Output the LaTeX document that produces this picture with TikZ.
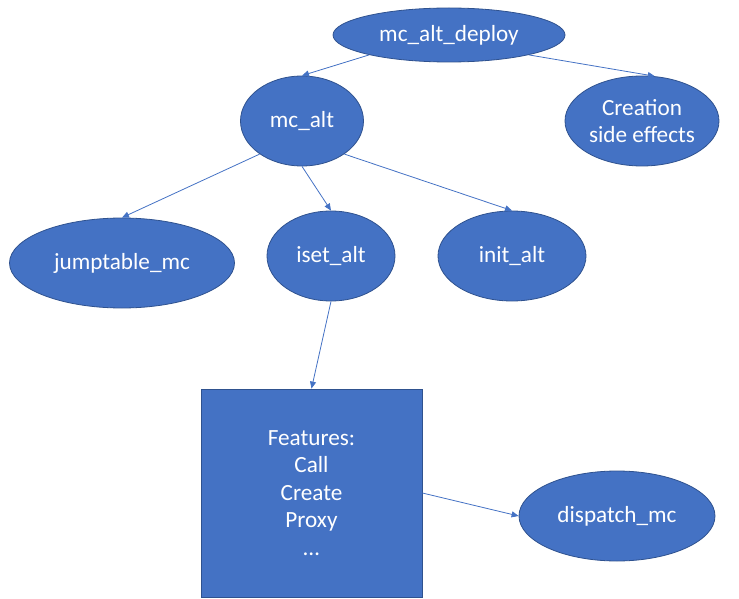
\documentclass[tikz,border=0pt]{standalone}
\usepackage{fontspec}
\setmainfont{Carlito}
\usetikzlibrary{shapes.geometric,arrows.meta}
\definecolor{nodefill}{HTML}{4472C4}
\definecolor{nodeline}{HTML}{2F528F}
\definecolor{linkcol}{HTML}{4472C4}
\begin{document}
\begin{tikzpicture}[x=1pt,y=-1pt,
  blob/.style={ellipse, fill=nodefill, draw=nodeline, line width=0.8pt,
    text=white, inner sep=0pt, align=center,
    font=\fontsize{23.2}{27.5}\selectfont},
  box/.style={rectangle, fill=nodefill, draw=nodeline, line width=0.8pt,
    text=white, inner sep=0pt, align=center,
    font=\fontsize{23.2}{27.5}\selectfont},
  link/.style={draw=linkcol, line width=0.8pt,
    -{Triangle[length=7pt,width=6pt]}}]
\useasboundingbox (0,0) rectangle (739,599);

% nodes
\node[blob, minimum width=232pt, minimum height=54pt] (mcad) at (449,35) {mc\_alt\_deploy};
\node[blob, minimum width=123pt, minimum height=90pt] (mcalt) at (302,121) {mc\_alt};
\node[blob, minimum width=154pt, minimum height=90pt] (side) at (642,121) {Creation\\side effects};
\node[blob, minimum width=225pt, minimum height=90pt] (jump) at (122,263) {jumptable\_mc};
\node[blob, minimum width=128pt, minimum height=90pt] (iset) at (331,256) {iset\_alt};
\node[blob, minimum width=148pt, minimum height=90pt] (init) at (512,256) {init\_alt};
\node[box, minimum width=221pt, minimum height=208pt] (feat) at (311.5,493) {Features:\\Call\\Create\\Proxy\\…};
\node[blob, minimum width=196pt, minimum height=90pt] (disp) at (617,516) {dispatch\_mc};

% connectors
\draw[link] (mcad.194) -- (mcalt.north);
\draw[link] (mcad.346) -- (side.74);
\draw[link] (mcalt.218) -- (jump.north);
\draw[link] (mcalt.south) -- (iset.north);
\draw[link] (mcalt.322) -- (init.north);
\draw[link] (iset.south) -- (feat.north);
\draw[link] (feat.east) -- (disp.west);
\end{tikzpicture}
\end{document}
